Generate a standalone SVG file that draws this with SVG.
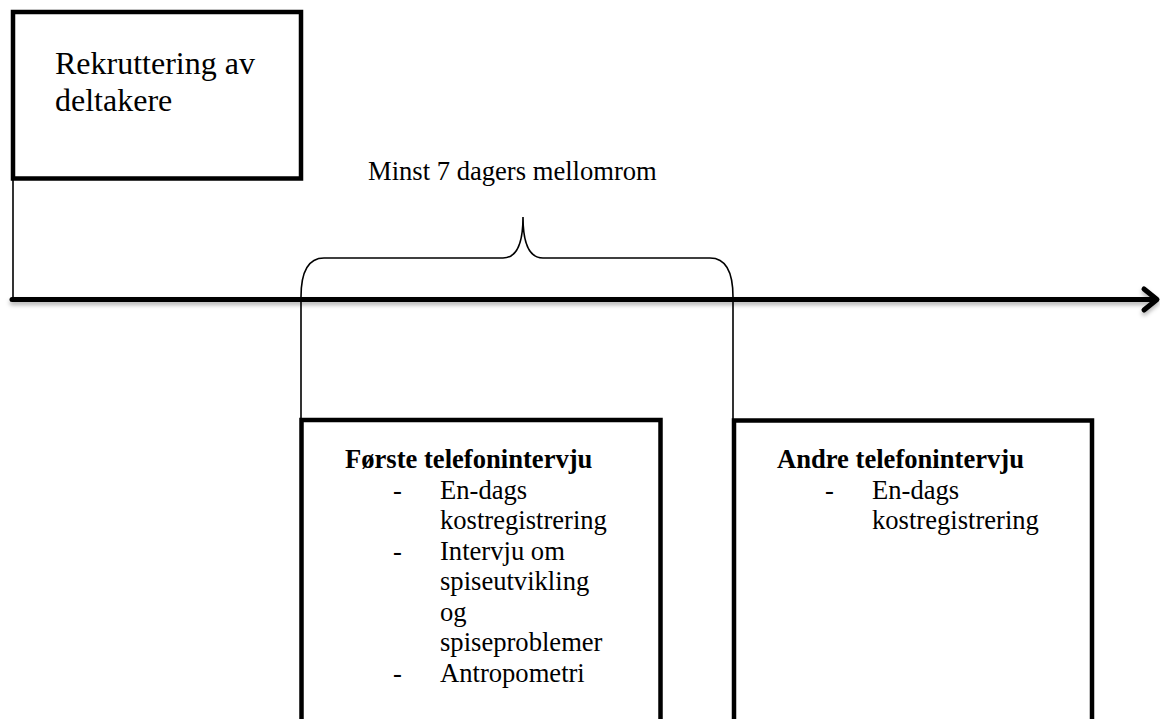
<svg xmlns="http://www.w3.org/2000/svg" width="1160" height="719" viewBox="0 0 1160 719">
  <style>
    .box { fill: #fff; stroke: #000; stroke-width: 4.5; }
    .thin { fill: none; stroke: #000; stroke-width: 1.6; }
    .axis { fill: none; stroke: #000; stroke-width: 5; stroke-linecap: round; stroke-linejoin: round; }
    .t { font-family: "Liberation Serif", "Times New Roman", serif; fill: #000; }
    .big { font-size: 32px; }
    .mid { font-size: 26.6px; }
    .b { font-weight: bold; }
  </style>
  <defs>
    <filter id="sh" x="-5%" y="-100%" width="110%" height="400%">
      <feDropShadow dx="0" dy="3" stdDeviation="2" flood-color="#000" flood-opacity="0.3"/>
    </filter>
  </defs>
  <rect width="1160" height="719" fill="#fff"/>

  <g id="connectors">
    <path class="thin" d="M13,180 L13,299"/>
    <path class="thin" d="M301,420 L301,297 C301,270 309,258 324,258 L503,258 C515,258 523,246 523,217 C523,246 531,258 543,258 L710,258 C725,258 733,270 733,297 L733,420"/>
    <g filter="url(#sh)">
      <path class="axis" d="M12,299.5 L1156,299.5"/>
      <path class="axis" d="M1144,289 L1157,299.5 L1144,310"/>
    </g>
  </g>

  <g id="node-rekruttering">
    <rect class="box" x="13" y="12" width="288" height="166.5"/>
    <text class="t big" x="55" y="74">Rekruttering av</text>
    <text class="t big" x="55" y="110.5">deltakere</text>
  </g>

  <g id="label-mellomrom">
    <text class="t mid" x="368" y="180">Minst 7 dagers mellomrom</text>
  </g>

  <g id="node-forste">
    <rect class="box" x="301.5" y="420" width="359" height="330"/>
    <text class="t mid b" x="345" y="468">Første telefonintervju</text>
    <text class="t mid" x="393" y="498.5">-</text>
    <text class="t mid" x="440" y="498.5">En-dags</text>
    <text class="t mid" x="440" y="529">kostregistrering</text>
    <text class="t mid" x="393" y="559.5">-</text>
    <text class="t mid" x="440" y="559.5">Intervju om</text>
    <text class="t mid" x="440" y="590">spiseutvikling</text>
    <text class="t mid" x="440" y="620.5">og</text>
    <text class="t mid" x="440" y="651">spiseproblemer</text>
    <text class="t mid" x="393" y="681.5">-</text>
    <text class="t mid" x="440" y="681.5">Antropometri</text>
  </g>

  <g id="node-andre">
    <rect class="box" x="734" y="420.5" width="358" height="330"/>
    <text class="t mid b" x="777" y="468">Andre telefonintervju</text>
    <text class="t mid" x="825" y="498.5">-</text>
    <text class="t mid" x="872" y="498.5">En-dags</text>
    <text class="t mid" x="872" y="529">kostregistrering</text>
  </g>
</svg>
